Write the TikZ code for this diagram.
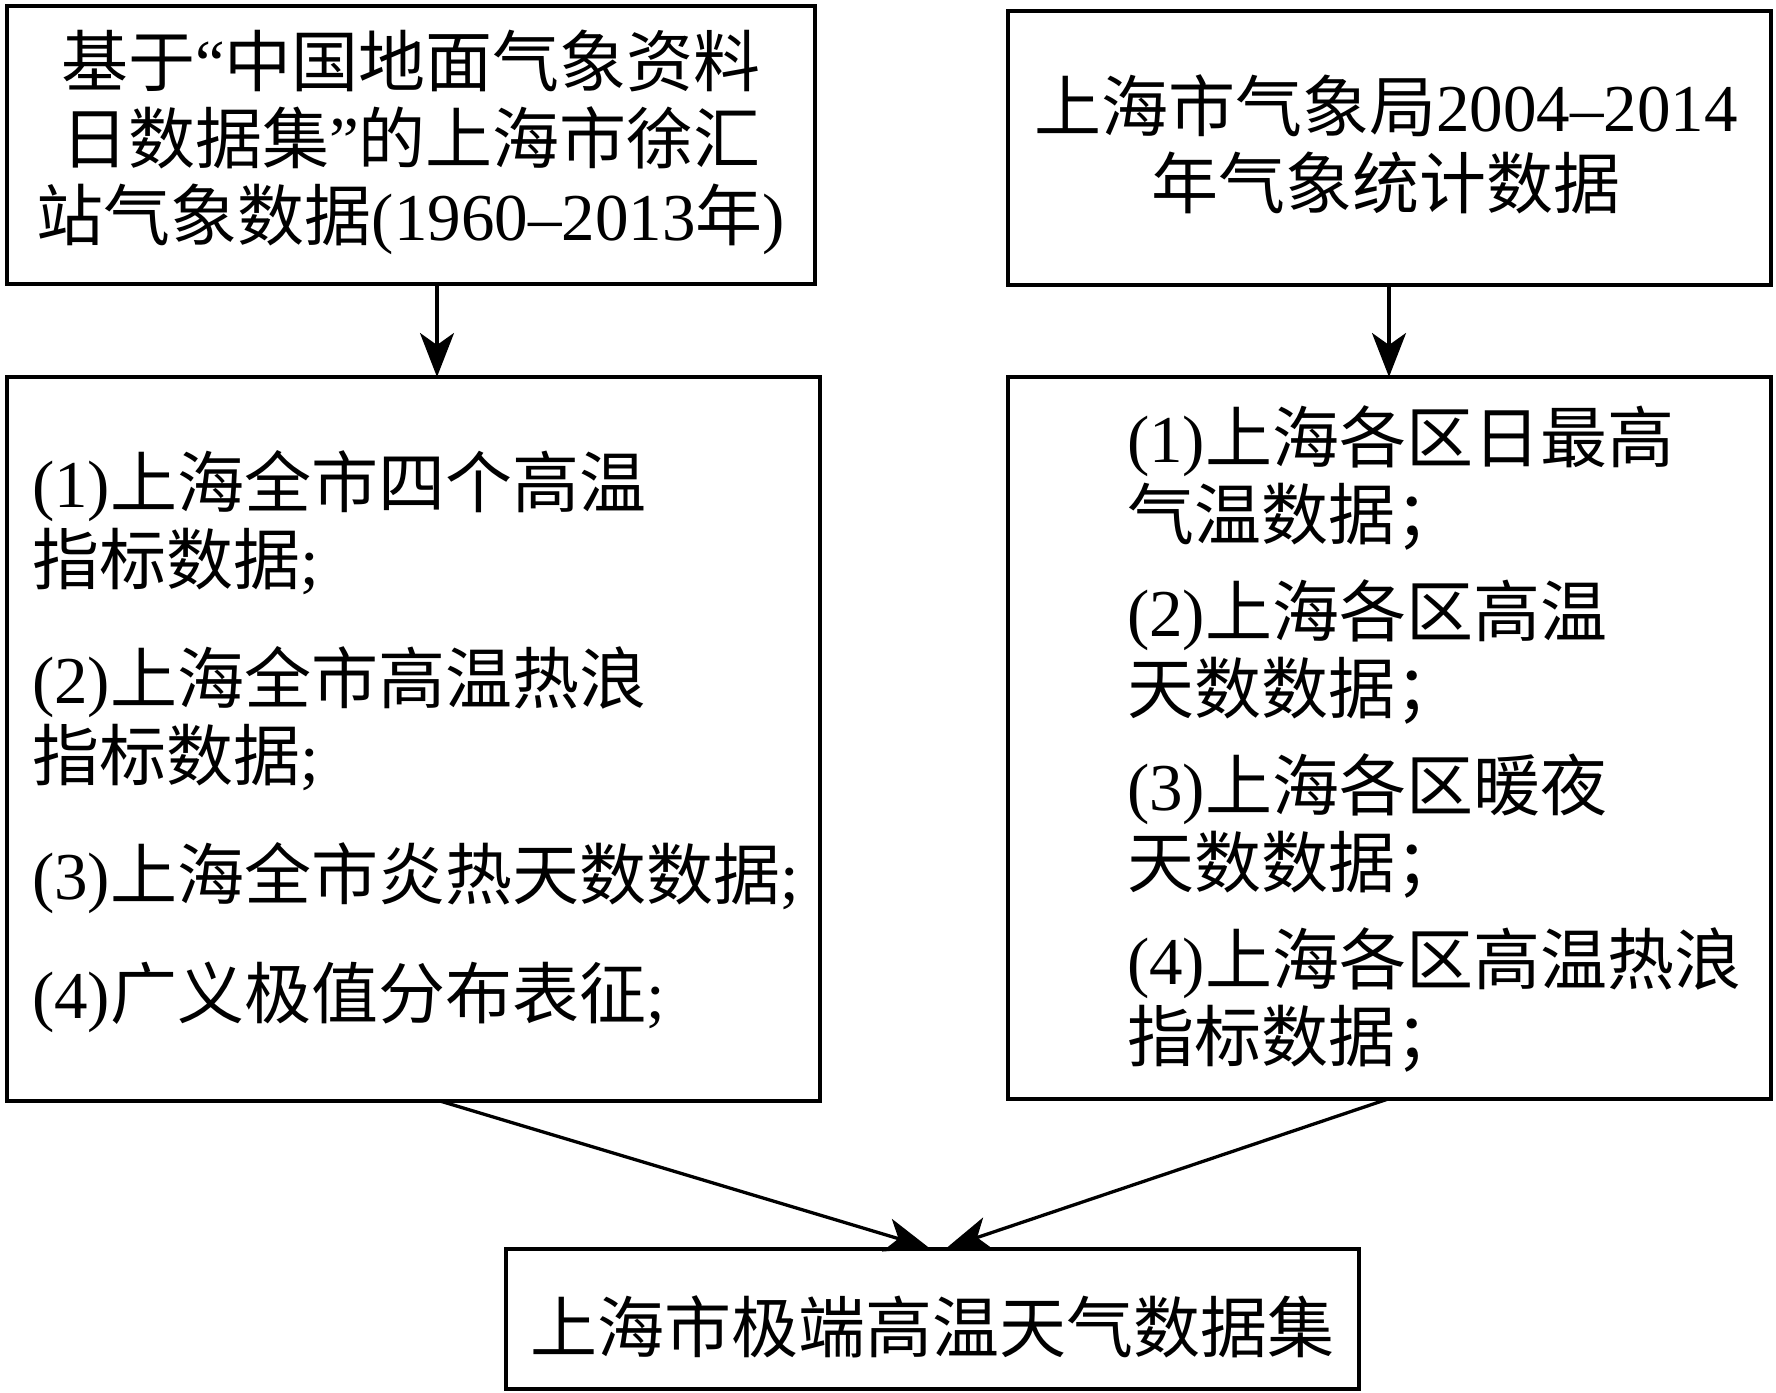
\documentclass[tikz,border=0pt]{standalone}
\usepackage{fontspec}
\setmainfont{Noto Sans CJK SC}
\newfontfamily\latf{Liberation Serif}
\newcommand\lt[1]{{\latf #1}}
\usetikzlibrary{arrows.meta,calc}
\tikzset{
  box/.style={draw, line width=4pt, rectangle, inner sep=0pt, outer sep=0pt},
  txt/.style={inner sep=0pt, outer sep=0pt, font=\fontsize{67}{77}\selectfont},
  arr/.style={line width=3.3pt, -{Stealth[length=44pt,width=34pt,inset=12pt]}},
}
\begin{document}
\begin{tikzpicture}[x=1pt,y=-1pt]
\useasboundingbox (0,0) rectangle (1776,1392);
% boxes
\node[box, minimum width=808pt, minimum height=278pt] (b1) at (411,145) {};
\node[box, minimum width=763pt, minimum height=274pt] (b2) at (1389.5,148) {};
\node[box, minimum width=813pt, minimum height=724pt] (b3) at (413.5,739) {};
\node[box, minimum width=763pt, minimum height=722pt] (b4) at (1389.5,738) {};
\node[box, minimum width=853pt, minimum height=140pt] (b5) at (932.5,1319) {};
% texts
\node[txt, align=center] (t1) at (411,142) {基于\lt{“}中国地面气象资料\\日数据集\lt{”}的上海市徐汇\\站气象数据\lt{(1960–2013}年\lt{)}};
\node[txt, align=center] (t2) at (1386,144) {上海市气象局\lt{2004–2014}\\年气象统计数据};
\node[txt, align=left, anchor=west] (t3) at (32,742) {\lt{(1)}上海全市四个高温\\指标数据\lt{;}\\[42pt]\lt{(2)}上海全市高温热浪\\指标数据\lt{;}\\[42pt]\lt{(3)}上海全市炎热天数数据\lt{;}\\[42pt]\lt{(4)}广义极值分布表征\lt{;}};
\node[txt, align=left, anchor=west] (t4) at (1127,739) {\lt{(1)}上海各区日最高\\气温数据；\\[20pt]\lt{(2)}上海各区高温\\天数数据；\\[20pt]\lt{(3)}上海各区暖夜\\天数数据；\\[20pt]\lt{(4)}上海各区高温热浪\\指标数据；};
\node[txt] (t5) at (932,1327) {上海市极端高温天气数据集};
% connector anchors
\coordinate (p1) at (437,0);
\coordinate (p2) at (1389,0);
\coordinate (q1) at (440,0);
\coordinate (q2) at (1388,0);
\coordinate (e1) at (933,0);
\coordinate (e2) at (943,0);
\draw[arr] (b1.south -| p1) -- (b3.north -| p1);
\draw[arr] (b2.south -| p2) -- (b4.north -| p2);
\draw[arr, shorten >=4pt] (b3.south -| q1) -- (b5.north -| e1);
\draw[arr, shorten >=4pt] (b4.south -| q2) -- (b5.north -| e2);
\end{tikzpicture}
\end{document}
